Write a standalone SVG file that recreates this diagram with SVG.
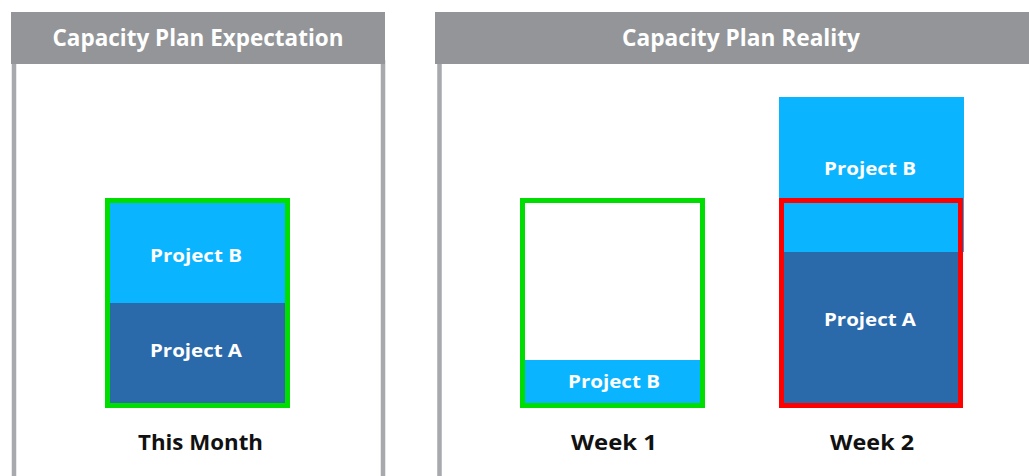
<svg xmlns="http://www.w3.org/2000/svg" width="1029" height="476" viewBox="0 0 1029 476">
<style>
.hdr{fill:#939598}
.side{fill:none;stroke:#a7a9ac;stroke-width:4.5}
.ht{font-family:"Open Sans","Liberation Sans",sans-serif;font-weight:700;font-size:22.5px;fill:#ffffff;text-anchor:middle}
.pt{font-family:"Open Sans","Liberation Sans",sans-serif;font-weight:700;font-size:18.5px;fill:#ffffff;text-anchor:middle}
.lt{font-family:"Open Sans","Liberation Sans",sans-serif;font-weight:700;font-size:22px;fill:#111111;text-anchor:middle}
.lb{fill:#0ab4ff}
.db{fill:#2a6aab}
.ok{fill:none;stroke:#00dd00;stroke-width:5}
.bad{fill:none;stroke:#ff0000;stroke-width:5}
</style>
<rect width="1029" height="476" fill="#ffffff"/>
<g id="panel-expectation">
  <line class="side" x1="14" y1="60" x2="14" y2="476"/>
  <line class="side" x1="383" y1="60" x2="383" y2="476"/>
  <rect class="hdr" x="11" y="12" width="374" height="52"/>
  <text class="ht" x="198" y="46" textLength="291" lengthAdjust="spacingAndGlyphs">Capacity Plan Expectation</text>
</g>
<g id="panel-reality">
  <line class="side" x1="439.5" y1="60" x2="439.5" y2="476"/>
  <rect class="hdr" x="435" y="12" width="594" height="52"/>
  <text class="ht" x="741" y="46" textLength="238" lengthAdjust="spacingAndGlyphs">Capacity Plan Reality</text>
</g>
<g id="this-month">
  <rect class="lb" x="107" y="200" width="181" height="103"/>
  <rect class="db" x="107" y="303" width="181" height="103"/>
  <rect class="ok" x="107.5" y="200.5" width="180" height="205"/>
  <text class="pt" x="196" y="262" textLength="92" lengthAdjust="spacingAndGlyphs">Project B</text>
  <text class="pt" x="196" y="357" textLength="92" lengthAdjust="spacingAndGlyphs">Project A</text>
  <text class="lt" x="200.5" y="450" textLength="125" lengthAdjust="spacingAndGlyphs">This Month</text>
</g>
<g id="week-1">
  <rect class="lb" x="522" y="360" width="181" height="46"/>
  <rect class="ok" x="522.5" y="200.5" width="180" height="205"/>
  <text class="pt" x="614" y="388" textLength="92" lengthAdjust="spacingAndGlyphs">Project B</text>
  <text class="lt" x="614" y="450" textLength="86" lengthAdjust="spacingAndGlyphs">Week 1</text>
</g>
<g id="week-2">
  <rect class="lb" x="779" y="97" width="185" height="155"/>
  <rect class="db" x="779" y="252" width="184" height="154"/>
  <rect class="bad" x="781.5" y="200.5" width="179" height="205"/>
  <text class="pt" x="870" y="175" textLength="92" lengthAdjust="spacingAndGlyphs">Project B</text>
  <text class="pt" x="870" y="326" textLength="92" lengthAdjust="spacingAndGlyphs">Project A</text>
  <text class="lt" x="872" y="450" textLength="84" lengthAdjust="spacingAndGlyphs">Week 2</text>
</g>
</svg>
